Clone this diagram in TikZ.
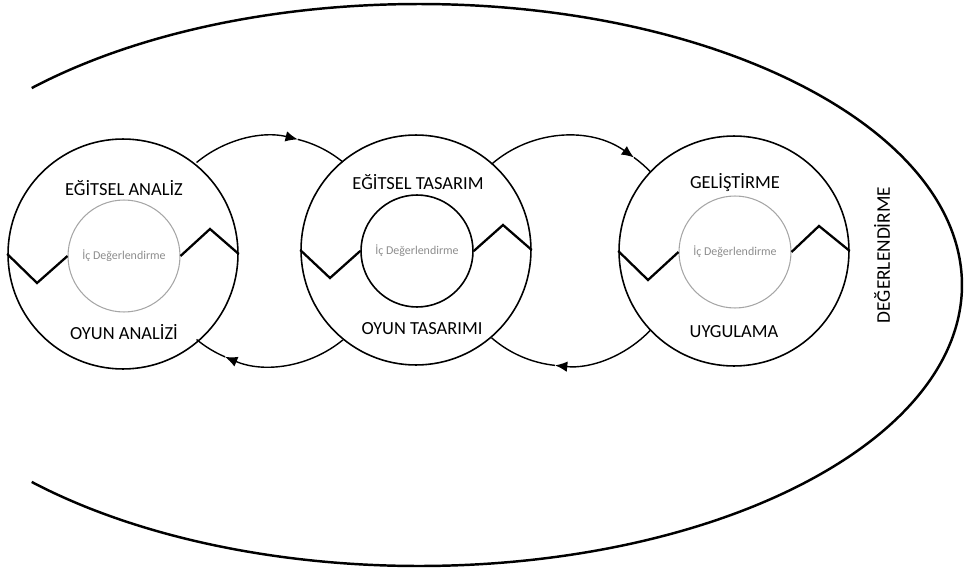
\documentclass[tikz,border=0pt]{standalone}
\usepackage{fontspec}
\setmainfont{Carlito}
\usetikzlibrary{arrows.meta,calc}
\tikzset{
    phase-ring/.style = {draw, circle, line width=0.9pt, minimum size=4.6cm, inner sep=0pt},
    inner-ring/.style = {draw=gray!70, circle, line width=0.6pt, minimum size=2.24cm, inner sep=0pt, text=gray!90, font=\fontsize{6.8}{8}\selectfont},
    phase-title/.style = {font=\fontsize{10.5}{12}\selectfont},
    link-arc/.style = {line width=0.8pt},
    link-arrow/.style = {link-arc, -{Latex[length=7pt,width=6pt]}},
    zigzag/.style = {line width=1.3pt},
    outer-loop/.style = {line width=1.4pt},
}

\begin{document}
\begin{tikzpicture}[x=0.02cm, y=0.02cm]
\useasboundingbox (0,0) rectangle (964,569);

% outer evaluation loop
\coordinate (loop) at (419,284);
\draw[outer-loop] (loop) ++(135.5:543 and 281) arc[start angle=135.5, end angle=-135.5, x radius=543, y radius=281];
\node[rotate=90, font=\fontsize{11}{13}\selectfont] (evaluation) at (882,314) {DEĞERLENDİRME};

% phases
\node[phase-ring] (c1) at (123,315) {};
\node[phase-ring] (c2) at (416,319) {};
\node[phase-ring] (c3) at (734,318) {};
\node[inner-ring] (i1) at (124,313) {İç Değerlendirme};
\node[inner-ring, draw=black, line width=0.9pt] (i2) at (417,318) {İç Değerlendirme};
\node[inner-ring] (i3) at (735,317) {İç Değerlendirme};

\node[phase-title] (t1) at (124,381) {EĞİTSEL ANALİZ};
\node[phase-title] (b1) at (124,237) {OYUN ANALİZİ};
\node[phase-title] (t2) at (418,387) {EĞİTSEL TASARIM};
\node[phase-title] (b2) at (422,240) {OYUN TASARIMI};
\node[phase-title] (t3) at (735,386) {GELİŞTİRME};
\node[phase-title] (b3) at (734,237) {UYGULAMA};

% zigzags
\draw[zigzag] (c1.west) -- ($(c1.center)+(-86,-29)$) -- (i1.west);
\draw[zigzag] (i1.east) -- ($(c1.center)+(87,25)$) -- (c1.east);
\draw[zigzag] (c2.west) -- ($(c2.center)+(-86,-28)$) -- (i2.west);
\draw[zigzag] (i2.east) -- ($(c2.center)+(87,25)$) -- (c2.east);
\draw[zigzag] (c3.west) -- ($(c3.center)+(-86,-29)$) -- (i3.west);
\draw[zigzag] (i3.east) -- ($(c3.center)+(85,25)$) -- (c3.east);

% links between phases
\coordinate (linkA) at (270,318);
\coordinate (linkB) at (567,318);
\draw[link-arrow] (linkA) ++(129.7:115) arc[start angle=129.7, end angle=76, radius=115];
\draw[link-arc] (linkA) ++(76:115) arc[start angle=76, end angle=50.6, radius=115];
\draw[link-arrow] (linkA) ++(-50.6:115) arc[start angle=-50.6, end angle=-113, radius=115];
\draw[link-arc] (linkA) ++(-113:115) arc[start angle=-113, end angle=-129.7, radius=115];
\draw[link-arrow] (linkB) ++(131:115) arc[start angle=131, end angle=54.4, radius=115];
\draw[link-arc] (linkB) ++(54.4:115) arc[start angle=54.4, end angle=43.4, radius=115];
\draw[link-arrow] (linkB) ++(-43.4:115) arc[start angle=-43.4, end angle=-96, radius=115];
\draw[link-arc] (linkB) ++(-96:115) arc[start angle=-96, end angle=-131, radius=115];
\end{tikzpicture}
\end{document}
